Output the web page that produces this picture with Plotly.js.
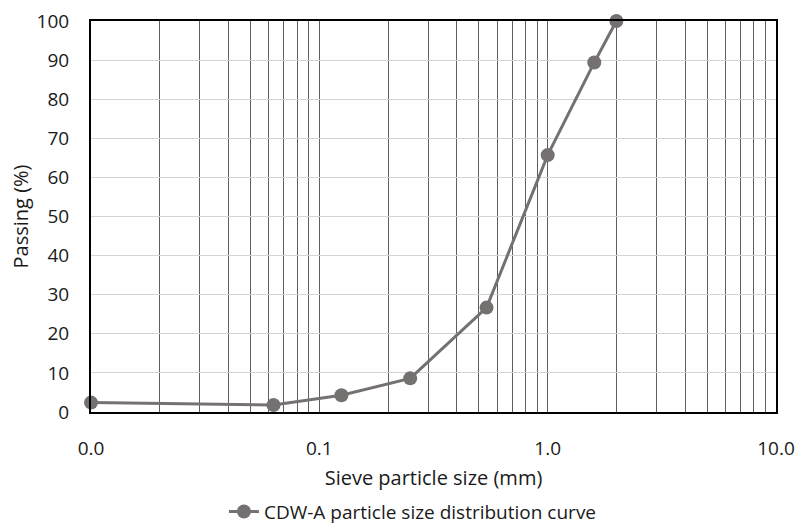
<!DOCTYPE html>
<html>
<head>
<meta charset="utf-8">
<script src="https://cdn.plot.ly/plotly-3.0.1.min.js"></script>
<style>html,body{margin:0;padding:0;background:#fff;}#chart{width:799px;height:527px;}</style>
</head>
<body>
<div id="chart"></div>
<script>
const sieveSize = [0.01, 0.063, 0.125, 0.25, 0.54, 1.0, 1.6, 2.0];
const passing = [2.4, 1.8, 4.3, 8.6, 26.7, 65.7, 89.4, 100];
const xTickVals = [0.01,0.02,0.03,0.04,0.05,0.06,0.07,0.08,0.09,
                   0.1,0.2,0.3,0.4,0.5,0.6,0.7,0.8,0.9,
                   1,2,3,4,5,6,7,8,9,10];
const xTickText = ["0.0","","","","","","","","",
                   "0.1","","","","","","","","",
                   "1.0","","","","","","","","","10.0"];
const seriesName = "CDW-A particle size distribution curve";

const font = "'Open Sans', 'Noto Sans', sans-serif";
const trace = {
  x: sieveSize, y: passing, type: 'scatter', mode: 'lines+markers',
  name: seriesName,
  line: {color: '#767171', width: 3},
  marker: {color: '#767171', size: 14},
  cliponaxis: false
};
const layout = {
  width: 799, height: 527,
  margin: {l: 91, r: 23, t: 21, b: 115, autoexpand: false},
  paper_bgcolor: '#fff', plot_bgcolor: '#fff',
  font: {family: font, color: '#1a1a1a', size: 19},
  showlegend: true,
  legend: {orientation: 'h', x: 0.47, xanchor: 'center',
           yref: 'container', y: 0.029, yanchor: 'middle',
           font: {size: 19, family: font, color: '#1a1a1a'}},
  xaxis: {
    type: 'log', range: [-2, 1],
    tickvals: xTickVals, ticktext: xTickText, ticks: '',
    ticklabelstandoff: 18,
    showgrid: true, gridcolor: '#5e5e5e', gridwidth: 1,
    showline: true, linecolor: '#000', linewidth: 2, mirror: true,
    zeroline: false,
    tickfont: {size: 19},
    title: {text: 'Sieve particle size (mm)', font: {size: 20}, standoff: 11}
  },
  yaxis: {
    range: [0, 100], dtick: 10, ticks: '',
    ticklabelstandoff: 16,
    showgrid: true, gridcolor: '#d4d4d4', gridwidth: 1,
    showline: true, linecolor: '#000', linewidth: 2, mirror: true,
    zeroline: false,
    tickfont: {size: 19},
    title: {text: 'Passing (%)', font: {size: 20}, standoff: 3}
  }
};
Plotly.newPlot('chart', [trace], layout, {displayModeBar: false, staticPlot: true});
</script>
</body>
</html>
